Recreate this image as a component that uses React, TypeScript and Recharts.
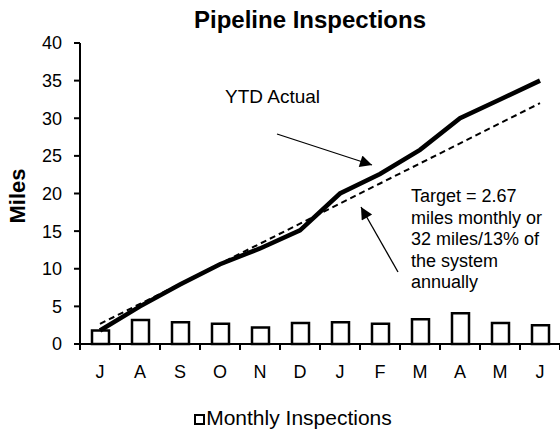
import { ComposedChart, Bar, Line, XAxis, YAxis, Legend, ReferenceLine } from "recharts";

// fiscal year Jul..Jun
const months = ["Jul", "Aug", "Sep", "Oct", "Nov", "Dec", "Jan", "Feb", "Mar", "Apr", "May", "Jun"];
const monthLabels = ["J", "A", "S", "O", "N", "D", "J", "F", "M", "A", "M", "J"];
const monthlyInspections = [1.8, 3.2, 2.9, 2.7, 2.2, 2.8, 2.9, 2.7, 3.3, 4.1, 2.8, 2.5];
const ytdActual = [1.8, 5.0, 7.9, 10.6, 12.7, 15.1, 20.0, 22.6, 25.8, 30.0, 32.5, 35.0];
const ytdTarget = [2.67, 5.33, 8.0, 10.67, 13.33, 16.0, 18.67, 21.33, 24.0, 26.67, 29.33, 32.0];
const yTicks = [0, 5, 10, 15, 20, 25, 30, 35, 40];

const data = months.map((m, i) => ({
  month: m,
  monthly: monthlyInspections[i],
  ytd: ytdActual[i],
  target: ytdTarget[i],
}));

const FONT = '"Liberation Sans", Arial, Helvetica, sans-serif';
const TICK_SIZE = 6;
const TICK_MARGIN = 15;

// month letter + tick marks on the category boundaries (Excel style)
function MonthTick(props: any) {
  const { x, y, payload, index, visibleTicksCount } = props;
  const half = payload && payload.offset ? payload.offset : 20;
  const axisY = y - TICK_SIZE - TICK_MARGIN;
  const last = index === (visibleTicksCount ?? 12) - 1;
  return (
    <g>
      <line x1={x - half} x2={x - half} y1={axisY} y2={axisY + TICK_SIZE} stroke="#000" strokeWidth={2} />
      {last && <line x1={x + half} x2={x + half} y1={axisY} y2={axisY + TICK_SIZE} stroke="#000" strokeWidth={2} />}
      <text x={x} y={y} dy="0.71em" textAnchor="middle" fill="#000" fontSize={18} fontFamily={FONT}>
        {monthLabels[index]}
      </text>
    </g>
  );
}

function LegendBox({ payload }: any) {
  const items = (payload || []).filter((p: any) => p.type !== "none");
  return (
    <div
      style={{
        height: 40,
        boxSizing: "border-box",
        paddingTop: 22,
        paddingLeft: 26,
        textAlign: "center",
        fontFamily: FONT,
        fontSize: 21,
        lineHeight: "23px",
        color: "#000",
      }}
    >
      {items.map((p: any) => (
        <span key={p.value}>
          <span
            style={{
              display: "inline-block",
              width: 11,
              height: 11,
              boxSizing: "border-box",
              border: "2.5px solid #000",
              background: "#fff",
              marginRight: 1,
            }}
          />
          {p.value}
        </span>
      ))}
    </div>
  );
}

export default function App() {
  return (
    <div style={{ position: "absolute", left: 0, top: 0, width: 560, height: 433, overflow: "hidden", background: "#fff" }}>
      <ComposedChart width={560} height={433} data={data} margin={{ top: 43, right: 0, left: 0, bottom: 9 }}>
        <XAxis
          dataKey="month"
          height={40}
          axisLine={{ stroke: "#000", strokeWidth: 2 }}
          tickLine={false}
          tickSize={TICK_SIZE}
          tickMargin={TICK_MARGIN}
          interval={0}
          tick={<MonthTick />}
        />
        <YAxis
          width={80}
          domain={[0, 40]}
          ticks={yTicks}
          interval={0}
          axisLine={{ stroke: "#000", strokeWidth: 2 }}
          tickLine={{ stroke: "#000", strokeWidth: 2 }}
          tickSize={6}
          tickMargin={12}
          tick={{ fill: "#000", fontSize: 18, fontFamily: FONT }}
        />
        <Legend verticalAlign="bottom" content={<LegendBox />} />
        <Bar
          dataKey="monthly"
          name="Monthly Inspections"
          barSize={17}
          fill="#fff"
          stroke="#000"
          strokeWidth={2.5}
          isAnimationActive={false}
        />
        <ReferenceLine y={0} stroke="#000" strokeWidth={2} ifOverflow="visible" />
        <Line
          dataKey="target"
          type="linear"
          stroke="#000"
          strokeWidth={2}
          strokeDasharray="6 4"
          dot={false}
          activeDot={false}
          legendType="none"
          isAnimationActive={false}
        />
        <Line
          dataKey="ytd"
          type="linear"
          stroke="#000"
          strokeWidth={4.5}
          dot={false}
          activeDot={false}
          legendType="none"
          isAnimationActive={false}
        />
      </ComposedChart>

      {/* title, axis title and the two arrow callouts */}
      <svg
        width={560}
        height={433}
        style={{ position: "absolute", left: 0, top: 0, pointerEvents: "none" }}
        fontFamily={FONT}
      >
        <defs>
          <marker id="head" viewBox="0 0 10 10" refX="10" refY="5" markerWidth="15" markerHeight="12" markerUnits="userSpaceOnUse" orient="auto">
            <path d="M0,0 L10,5 L0,10 z" fill="#000" />
          </marker>
        </defs>
        <text x={310} y={28} textAnchor="middle" fontSize={24} fontWeight="bold" fill="#000">
          Pipeline Inspections
        </text>
        <text transform="translate(25,196) rotate(-90)" textAnchor="middle" fontSize={22} fontWeight="bold" fill="#000">
          Miles
        </text>
        <text x={225} y={103} fontSize={19} fill="#000">
          YTD Actual
        </text>
        <line x1={277} y1={134} x2={372} y2={165} stroke="#000" strokeWidth={1.3} markerEnd="url(#head)" />
        <text fontSize={18} fill="#000">
          <tspan x={411} y={202}>Target = 2.67</tspan>
          <tspan x={411} y={223.5}>miles monthly or</tspan>
          <tspan x={411} y={245}>32 miles/13% of</tspan>
          <tspan x={411} y={266.5}>the system</tspan>
          <tspan x={411} y={288}>annually</tspan>
        </text>
        <line x1={398} y1={272} x2={361} y2={207} stroke="#000" strokeWidth={1.3} markerEnd="url(#head)" />
      </svg>
    </div>
  );
}
